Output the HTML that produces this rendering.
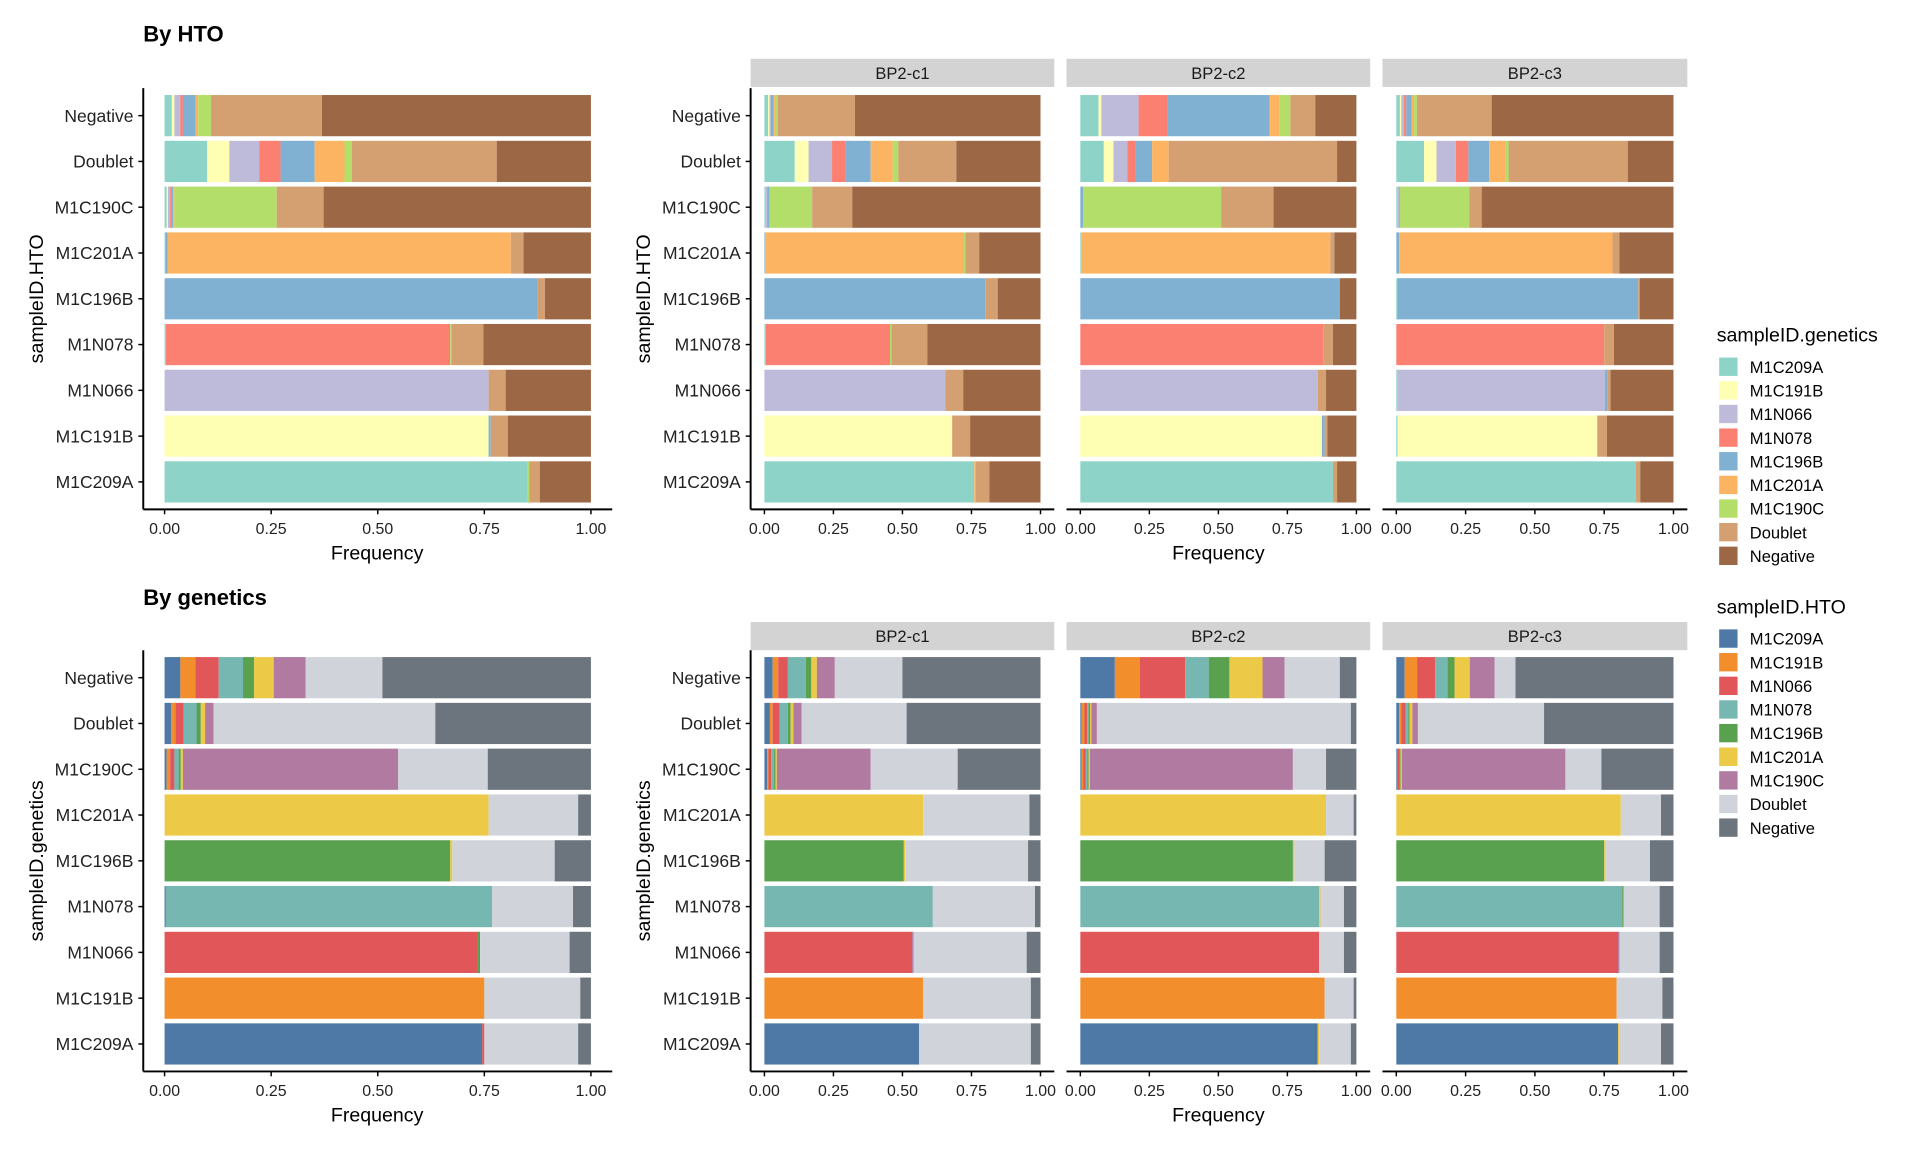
<!DOCTYPE html>
<html><head><meta charset="utf-8"><style>
html,body{margin:0;padding:0;background:#fff;width:1920px;height:1152px;overflow:hidden}
svg{display:block;font-family:"Liberation Sans",sans-serif}
</style></head><body>
<svg id="chart" width="1920" height="1152" viewBox="0 0 1568 940.8" xmlns="http://www.w3.org/2000/svg"></svg>
<script>
// categories (display order top->bottom)
const rowsTop = ["Negative","Doublet","M1C190C","M1C201A","M1C196B","M1N078","M1N066","M1C191B","M1C209A"];
const seriesNames = ["M1C209A","M1C191B","M1N066","M1N078","M1C196B","M1C201A","M1C190C","Doublet","Negative"];
const colorsTop = ["#8DD3C7","#FFFFB3","#BEBADA","#FB8072","#80B1D3","#FDB462","#B3DE69","#D4A072","#9C6744"];
const colorsBot = ["#4E79A7","#F28E2B","#E15759","#76B7B2","#59A14F","#EDC948","#B07AA1","#D0D4DA","#6C757D"];
const xTicks = [0,0.25,0.5,0.75,1];
const xTickLabels = ["0.00","0.25","0.50","0.75","1.00"];
const facetLabels = ["BP2-c1","BP2-c2","BP2-c3"];

// top: rows = sampleID.HTO, segments = genetics
const topAll = [
[.017,.006,.014,.006,.03,.006,.03,.26,.631],
[.10,.052,.07,.05,.08,.07,.017,.34,.221],
[.005,.003,.005,.003,.004,.003,.24,.11,.627],
[.002,0,0,0,.005,.805,0,.03,.158],
[0,0,0,0,.875,0,0,.017,.108],
[.003,0,0,.667,0,0,.003,.075,.252],
[0,0,.76,0,0,0,0,.04,.2],
[0,.76,0,0,.005,0,0,.04,.195],
[.85,0,0,0,0,0,.005,.025,.12]];
const topC1 = [
[.013,.005,.005,0,.01,.005,.01,.28,.672],
[.11,.05,.085,.05,.09,.08,.02,.21,.305],
[.005,0,.005,.003,.005,0,.155,.145,.682],
[0,0,0,0,.003,.72,.005,.05,.222],
[0,0,0,0,.80,0,0,.045,.155],
[.005,0,0,.45,0,0,.005,.13,.41],
[0,0,.655,0,0,0,0,.065,.28],
[0,.68,0,0,0,0,0,.065,.255],
[.76,0,0,0,0,.005,0,.05,.185]];
const topC2 = [
[.066,.01,.135,.105,.37,.035,.04,.09,.149],
[.085,.035,.05,.03,.06,.06,0,.61,.07],
[0,0,0,0,.01,0,.50,.19,.30],
[.005,0,0,0,0,.90,0,.015,.08],
[0,0,0,0,.94,0,0,0,.06],
[0,0,0,.88,0,0,0,.035,.085],
[0,0,.86,0,0,0,0,.03,.11],
[0,.875,0,0,.01,0,0,.01,.105],
[.915,0,0,0,0,0,0,.015,.07]];
const topC3 = [
[.013,.005,.01,.008,.02,.008,.01,.27,.656],
[.10,.045,.07,.045,.075,.06,.01,.43,.165],
[.005,0,.005,.003,0,0,.25,.045,.692],
[0,0,0,0,.01,.77,0,.025,.195],
[.003,0,0,0,.87,0,0,.005,.122],
[0,0,0,.75,0,0,0,.035,.215],
[.003,0,.75,0,.01,0,0,.01,.227],
[.005,.72,0,0,0,0,0,.035,.24],
[.865,0,0,0,0,0,0,.015,.12]];
// bottom: rows = sampleID.genetics, segments = HTO
const botAll = [
[.037,.035,.055,.057,.026,.046,.075,.18,.489],
[.015,.01,.02,.03,.01,.01,.02,.52,.365],
[.005,.008,.01,.01,.005,.005,.505,.21,.242],
[0,0,0,0,0,.76,0,.21,.03],
[0,0,0,0,.67,.005,0,.24,.085],
[.003,0,0,.765,0,0,0,.19,.042],
[0,0,.735,0,.005,0,0,.21,.05],
[0,.75,0,0,0,0,0,.225,.025],
[.745,0,.005,0,0,0,0,.22,.03]];
const botC1 = [
[.03,.02,.035,.065,.02,.02,.065,.245,.50],
[.02,.01,.025,.03,.01,.01,.03,.38,.485],
[.01,.005,.01,.01,.005,.005,.34,.315,.30],
[0,0,0,0,0,.575,0,.385,.04],
[0,0,0,0,.505,.005,0,.445,.045],
[0,0,0,.61,0,0,0,.37,.02],
[0,0,.535,0,0,0,.005,.41,.05],
[0,.575,0,0,0,0,0,.39,.035],
[.56,0,0,0,0,0,0,.405,.035]];
const botC2 = [
[.125,.09,.165,.085,.075,.12,.08,.2,.06],
[.005,.01,.01,.005,.005,.005,.02,.92,.02],
[.005,.005,.01,.005,.005,.005,.735,.12,.11],
[0,0,0,0,0,.89,0,.10,.01],
[0,0,0,0,.77,.005,0,.11,.115],
[0,0,0,.865,0,.005,0,.085,.045],
[0,0,.865,0,0,0,0,.09,.045],
[0,.885,0,0,0,0,0,.105,.01],
[.86,0,0,0,0,.005,0,.115,.02]];
const botC3 = [
[.03,.045,.065,.045,.025,.055,.09,.075,.57],
[.01,.008,.015,.01,.005,.01,.02,.455,.467],
[.005,0,.005,0,.005,.005,.59,.13,.26],
[0,0,0,0,0,.81,0,.145,.045],
[0,0,0,0,.75,.005,0,.16,.085],
[0,0,0,.815,.005,0,0,.13,.05],
[0,0,.80,0,0,0,.005,.145,.05],
[0,.795,0,0,0,0,0,.165,.04],
[.80,0,0,0,0,.005,0,.15,.045]];

const NS="http://www.w3.org/2000/svg";
const svg=document.getElementById('chart');
function el(tag,attrs,parent,text){const e=document.createElementNS(NS,tag);for(const k in attrs)e.setAttribute(k,attrs[k]);if(text!==undefined)e.textContent=text;(parent||svg).appendChild(e);return e;}

function panel(x0,x1,yTop,yBot,data,colors,name,drawY,rowLabels,yTitle){
  const g=el('g',{});
  
  
  const xs=v=>x0+(x1-x0)*((v+0.05)/1.1);
  const step=(yBot-yTop)/9.2;
  const yc=i=>yTop+step*(0.6+i);
  const bh=step*0.9;
  data.forEach((row,i)=>{
    const tot=row.reduce((a,b)=>a+b,0)||1;
    let cum=0;
    row.forEach((v,j)=>{
      const f=v/tot; if(f<=0){return;}
      const r=el('rect',{x:xs(cum),y:yc(i)-bh/2,width:xs(cum+f)-xs(cum),height:bh,fill:colors[j]},g);
      
      
      cum+=f;
    });
  });
  const ax=el('line',{x1:x0,x2:x1,y1:yBot,y2:yBot,stroke:'#000','stroke-width':1.6},g);
  
  
  xTicks.forEach((t,k)=>{
    el('line',{x1:xs(t),x2:xs(t),y1:yBot,y2:yBot+4,stroke:'#000','stroke-width':1.2},g);
    const tl=el('text',{x:xs(t),y:yBot+20,'text-anchor':'middle','font-size':13,fill:'#222'},g,xTickLabels[k]);
    
    
  });
  if(drawY){
    const ay=el('line',{x1:x0,x2:x0,y1:yTop,y2:yBot,stroke:'#000','stroke-width':1.6},g);
    
    
    rowLabels.forEach((lab,i)=>{
      el('line',{x1:x0-4,x2:x0,y1:yc(i),y2:yc(i),stroke:'#000','stroke-width':1.2},g);
      const t=el('text',{x:x0-8,y:yc(i)+5,'text-anchor':'end','font-size':14.3,fill:'#222'},g,lab);
      
      
    });
    const yt=el('text',{x:0,y:0,transform:`translate(${x0-82},${(yTop+yBot)/2}) rotate(-90)`,'text-anchor':'middle','font-size':16,fill:'#000'},g,yTitle);
    
    
  }
}
function strip(x0,x1,y0,label){
  const r=el('rect',{x:x0,y:y0,width:x1-x0,height:23,fill:'#D3D3D3'});
  
  
  const t=el('text',{x:(x0+x1)/2,y:y0+16.5,'text-anchor':'middle','font-size':13.5,fill:'#1a1a1a'},svg,label);
  
  
}
function xtitle(x,y){const t=el('text',{x:x,y:y,'text-anchor':'middle','font-size':16,fill:'#000'},svg,'Frequency');
  
  }
function legend(x,y,title,colors,name){
  const g=el('g',{});
  
  
  const tt=el('text',{x:x,y:y,'font-size':16,fill:'#000'},g,title);
  
  
  seriesNames.forEach((s,i)=>{
    const yy=y+13+i*19.3;
    const k=el('rect',{x:x+2,y:yy,width:15,height:15,fill:colors[i]},g);
    
    
    const t=el('text',{x:x+27,y:yy+12.5,'font-size':13.5,fill:'#000'},g,s);
    
    
  });
}
function title(x,y,txt){const t=el('text',{x:x,y:y,'font-size':18,'font-weight':'bold',fill:'#000'},svg,txt);
  
  }

const facetsX=[[613,861],[871,1119],[1129,1378]];
title(117,34,'By HTO');
panel(117,500,72,416,topAll,colorsTop,'panel-hto-overall',true,rowsTop,'sampleID.HTO');
xtitle(308,457);
[topC1,topC2,topC3].forEach((d,k)=>{
  strip(facetsX[k][0],facetsX[k][1],48,facetLabels[k]);
  panel(facetsX[k][0],facetsX[k][1],72,416,d,colorsTop,'panel-hto-'+facetLabels[k].toLowerCase(),k===0,rowsTop,'sampleID.HTO');
});
xtitle(995,457);
legend(1402,279,'sampleID.genetics',colorsTop,'legend-genetics');
title(117,494,'By genetics');
panel(117,500,531,875,botAll,colorsBot,'panel-genetics-overall',true,rowsTop,'sampleID.genetics');
xtitle(308,916);
[botC1,botC2,botC3].forEach((d,k)=>{
  strip(facetsX[k][0],facetsX[k][1],508,facetLabels[k]);
  panel(facetsX[k][0],facetsX[k][1],531,875,d,colorsBot,'panel-genetics-'+facetLabels[k].toLowerCase(),k===0,rowsTop,'sampleID.genetics');
});
xtitle(995,916);
legend(1402,501,'sampleID.HTO',colorsBot,'legend-hto');
</script>
</body></html>
